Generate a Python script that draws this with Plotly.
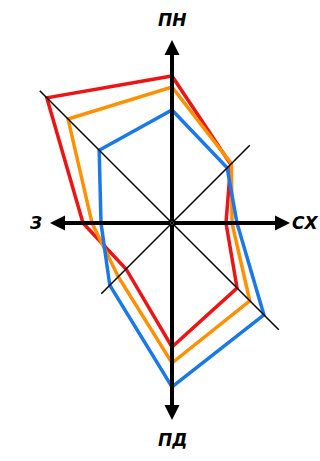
import numpy as np
import plotly.graph_objects as go

# 8 directions, counter-clockwise from east
directions = ["СХ", "ПнСх", "ПН", "ПнЗ", "З", "ПдЗ", "ПД", "ПдСх"]
angles_deg = [0, 45, 90, 135, 180, 225, 270, 315]

# radii (same order as directions)
red = [54, 83, 147, 177, 89, 65, 124, 92]
orange = [60, 84, 136, 147, 80, 76, 140, 110]
blue = [65, 78, 113, 103, 71, 88, 164, 130]

# lengths of the axis rays
ray_len = [118, 110, 183, 187, 122, 100, 197, 151]
main_labels = {"СХ": 133, "ПН": 203, "З": 137, "ПД": 217}

theta = np.radians(angles_deg)


def to_xy(r):
    r = np.asarray(r, dtype=float)
    x = r * np.cos(theta)
    y = r * np.sin(theta)
    return np.append(x, x[0]), np.append(y, y[0])


fig = go.Figure()

series = [("red", red, "#ec1515"), ("orange", orange, "#ff9000"), ("blue", blue, "#1a78ea")]
for name, vals, col in series:
    x, y = to_xy(vals)
    fig.add_trace(go.Scatter(x=x, y=y, mode="lines", name=name,
                             line=dict(color=col, width=3.5), hoverinfo="skip"))

# thin diagonal rays
for i, a in enumerate(angles_deg):
    if a % 90 != 0:
        r = ray_len[i]
        fig.add_trace(go.Scatter(x=[0, r * np.cos(theta[i])], y=[0, r * np.sin(theta[i])],
                                 mode="lines", line=dict(color="black", width=1.5),
                                 hoverinfo="skip"))

annotations = []
for i, a in enumerate(angles_deg):
    if a % 90 == 0:
        r = ray_len[i]
        annotations.append(dict(x=r * np.cos(theta[i]), y=r * np.sin(theta[i]),
                                ax=0, ay=0, axref="x", ayref="y", xref="x", yref="y",
                                text="", showarrow=True, arrowhead=2, arrowsize=0.75,
                                arrowwidth=4, arrowcolor="black", standoff=0))
        lab = directions[i]
        d = main_labels[lab]
        annotations.append(dict(x=d * np.cos(theta[i]), y=d * np.sin(theta[i]),
                                xref="x", yref="y", text="<b><i>%s</i></b>" % lab,
                                showarrow=False,
                                font=dict(family="DejaVu Sans", size=17, color="black")))

fig.update_layout(
    width=320, height=461,
    margin=dict(l=0, r=0, t=0, b=0),
    paper_bgcolor="white", plot_bgcolor="white",
    showlegend=False,
    xaxis=dict(range=[-172, 148], visible=False, fixedrange=True),
    yaxis=dict(range=[-238, 223], visible=False, fixedrange=True),
    annotations=annotations,
)

# drop the default 8px body margin so the figure fills the window
fig.write_html("out.html", config={"displayModeBar": False},
               post_script="document.body.style.margin='0';")
